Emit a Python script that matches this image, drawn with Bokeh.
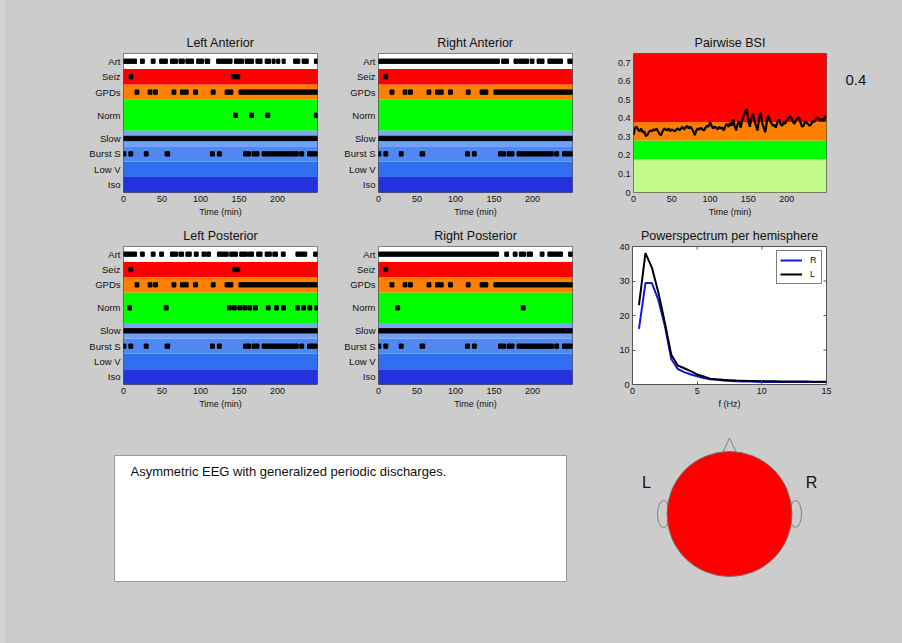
from bokeh.plotting import figure
from bokeh.models import Range1d, FixedTicker, Legend, LegendItem, LinearAxis, Spacer
from bokeh.layouts import column, row
from bokeh.embed import file_html
from bokeh.resources import INLINE
from bokeh.core.properties import value

# ---------------------------------------------------------------- data
T_END = 252  # minutes shown on the time axes

state_names = ["Iso", "Low V", "Burst S", "Slow", "Norm", "GPDs", "Seiz", "Art"]
state_spans = [1, 1, 1, 1, 2, 1, 1, 1]
state_colors = ["#2233dd", "#2f6ff0", "#5088f2", "#6e9ffc", "#00ff00", "#ff8000", "#ff0000", "#ffffff"]
SLOW_UPPER = "#7ca6ef"

# detected episodes per channel group, (start, end) in minutes
gpds_all = [(15, 20), (32, 37), (39, 44), (63, 68), (74, 79), (79, 84), (91, 96), (114, 119),
            (132, 137), (137, 142), (150, 252)]
burst_all = [(0, 3), (7, 12), (27, 32), (54, 60), (113, 118), (122, 127), (156, 165), (167, 176),
             (180, 227), (229, 234), (239, 252)]
slow_all = [(0, 252)]

la_art = [(0, 17), (22, 27), (36, 41), (47, 57), (61, 70), (72, 79), (81, 91), (95, 104), (106, 112),
          (121, 141), (144, 156), (158, 169), (172, 180), (184, 191), (193, 197), (199, 203), (206, 210),
          (221, 229), (232, 240), (248, 252)]
la_seiz = [(7, 12), (141, 151)]
la_norm = [(143, 148), (164, 169), (185, 190), (248, 252)]

ra_art = [(0, 157), (160, 169), (176, 181), (182, 195), (197, 202), (206, 215), (220, 239), (246, 252)]
ra_seiz = [(7, 12)]
ra_norm = []

lp_art = [(0, 17), (22, 27), (36, 41), (47, 52), (61, 70), (72, 78), (81, 88), (92, 97), (102, 107),
          (108, 113), (122, 136), (138, 148), (151, 161), (162, 169), (173, 180), (184, 192), (194, 200),
          (205, 210), (224, 238), (247, 252)]
lp_seiz = [(7, 12), (142, 151)]
lp_norm = [(5.5, 10.5), (53, 58), (135, 140), (141.5, 146.5), (148.5, 153.5), (155, 160), (161.5, 166.5),
           (169, 174), (185.5, 190.5), (196.5, 201.5), (205.5, 210.5), (223.5, 228.5), (231.5, 236.5),
           (239.5, 244.5), (248.5, 253)]

rp_art = [(0, 156), (164, 169), (175, 180), (183, 191), (193, 200), (210, 215), (220, 239), (247, 252)]
rp_seiz = [(7, 12)]
rp_norm = [(22.5, 27.5), (185.5, 190.5)]

# pairwise brain symmetry index, one value every 2 minutes
bsi_step_min = 2
bsi_values = [0.31, 0.35, 0.355, 0.34, 0.33, 0.345, 0.325, 0.33, 0.305, 0.31,
              0.325, 0.335, 0.33, 0.34, 0.335, 0.345, 0.33, 0.315, 0.31, 0.33,
              0.345, 0.34, 0.335, 0.345, 0.33, 0.34, 0.335, 0.33, 0.34, 0.345,
              0.335, 0.345, 0.355, 0.34, 0.35, 0.36, 0.345, 0.355, 0.345, 0.33,
              0.31, 0.335, 0.345, 0.34, 0.35, 0.34, 0.335, 0.35, 0.36, 0.355,
              0.38, 0.36, 0.345, 0.355, 0.35, 0.34, 0.355, 0.345, 0.35, 0.335,
              0.36, 0.37, 0.355, 0.375, 0.36, 0.395, 0.36, 0.335, 0.37, 0.385,
              0.35, 0.39, 0.415, 0.44, 0.45, 0.385, 0.355, 0.40, 0.425, 0.385,
              0.36, 0.335, 0.40, 0.43, 0.375, 0.35, 0.325, 0.38, 0.415, 0.39,
              0.375, 0.36, 0.365, 0.35, 0.38, 0.395, 0.37, 0.36, 0.38, 0.37,
              0.39, 0.395, 0.41, 0.405, 0.385, 0.37, 0.39, 0.40, 0.405, 0.38,
              0.355, 0.36, 0.385, 0.375, 0.37, 0.36, 0.37, 0.385, 0.38, 0.395,
              0.405, 0.40, 0.39, 0.395, 0.385, 0.41, 0.405]
bsi_time = [i * bsi_step_min for i in range(len(bsi_values))]
bsi_summary = 0.4
bsi_band_edges = [0, 0.18, 0.28, 0.38, 0.75]
bsi_band_colors = ["#c3fa8c", "#00ff00", "#ff8000", "#ff0000"]

# power spectrum per hemisphere
freq_hz = [0.5, 1.0, 1.5, 2.0, 2.5, 3.0, 3.5, 4.0, 4.5, 5.0, 5.5, 6.0, 6.5, 7.0, 7.5,
           8.0, 8.5, 9.0, 9.5, 10.0, 10.5, 11.0, 11.5, 12.0, 12.5, 13.0, 13.5, 14.0, 14.5, 15.0]
power_r = [16.1, 29.4, 29.4, 24.5, 17.0, 7.4, 4.5, 3.6, 2.9, 2.4, 1.9, 1.5, 1.35, 1.15, 1.05,
           0.95, 0.9, 0.85, 0.8, 0.75, 0.75, 0.75, 0.7, 0.7, 0.7, 0.7, 0.7, 0.7, 0.7, 0.7]
power_l = [23.0, 38.1, 33.9, 26.7, 18.0, 8.6, 5.5, 4.7, 3.9, 2.9, 2.3, 1.7, 1.5, 1.35, 1.25,
           1.15, 1.1, 1.05, 1.0, 0.95, 0.95, 0.95, 0.9, 0.9, 0.9, 0.85, 0.85, 0.8, 0.8, 0.8]
ps_xticks = [0, 5, 10, 15]
ps_yticks = [0, 10, 20, 30, 40]

conclusion = "Asymmetric EEG with generalized periodic discharges."

# ---------------------------------------------------------------- style
PAGE_BG = "#cccccc"
EDGE_BG = "#d4d4d4"
EDGE_W = 5
FONT = "Liberation Sans"
TEXT_C = "#111111"
FRAME_C = "#555555"
MARK_H = 0.28
TICK_PX = 3
NOTE_Y = 0.606  # height (in BSI units) at which the summary value is printed

ROW_H = [222, 198, 223]
COL_W = [340 - EDGE_W, 250, 312]
ROW_TB = [(53, 30), (24, 36)]
COL_LR = [(123 - EDGE_W, 23), (38, 18), (43, 76)]

band_bottoms, band_tops, state_levels = [], [], []
acc = 0
for span in state_spans:
    band_bottoms.append(acc)
    band_tops.append(acc + span)
    state_levels.append(acc + span / 2)
    acc += span


def base_fig(col, r, x_end, y_end, title, left=None):
    lft, rgt = COL_LR[col]
    top, bot = ROW_TB[r]
    p = figure(width=COL_W[col], height=ROW_H[r], x_range=Range1d(0, x_end), y_range=Range1d(0, y_end),
               output_backend="svg", toolbar_location=None, tools="",
               min_border_left=left if left is not None else lft, min_border_right=rgt,
               min_border_top=top, min_border_bottom=bot,
               background_fill_color="white", border_fill_color=PAGE_BG)
    p.grid.visible = False
    p.outline_line_color = FRAME_C
    p.outline_line_width = 1
    p.title.text = title
    p.title.align = "center"
    p.title.text_font = FONT
    p.title.text_font_size = "12.5px"
    p.title.text_font_style = "normal"
    p.title.text_color = TEXT_C
    p.title.standoff = 8
    return p


def style_axis(ax, ticks, tick_in=0, size="9px"):
    ax.ticker = FixedTicker(ticks=ticks)
    ax.axis_line_color = None
    ax.major_tick_in = tick_in
    ax.major_tick_out = 0
    ax.major_tick_line_color = FRAME_C
    ax.minor_tick_in = 0
    ax.minor_tick_out = 0
    ax.major_label_text_font = FONT
    ax.major_label_text_font_size = size
    ax.major_label_text_color = TEXT_C
    ax.major_label_standoff = 3
    ax.axis_label_text_font = FONT
    ax.axis_label_text_font_size = "9px"
    ax.axis_label_text_font_style = "normal"
    ax.axis_label_text_color = TEXT_C
    ax.axis_label_standoff = 2


def state_panel(title, events, col, r):
    p = base_fig(col, r, T_END, band_tops[-1], title)
    p.quad(left=0, right=T_END, bottom=band_bottoms, top=band_tops, fill_color=state_colors, line_color=None)
    si = state_names.index("Slow")
    p.quad(left=[0], right=[T_END], bottom=[state_levels[si]], top=[band_tops[si]],
           fill_color=SLOW_UPPER, line_color=None)
    ys, ls, rs = [], [], []
    for name, level in zip(state_names, state_levels):
        for s, e in events.get(name, []):
            ys.append(level)
            ls.append(s)
            rs.append(e)
    p.hbar(y=ys, left=ls, right=rs, height=MARK_H, color="black")
    style_axis(p.xaxis[0], [0, 50, 100, 150, 200])
    style_axis(p.yaxis[0], state_levels, size="9.5px")
    p.yaxis[0].major_label_overrides = {lv: nm for lv, nm in zip(state_levels, state_names)}
    p.xaxis[0].axis_label = "Time (min)"
    return p


def edge(height):
    return Spacer(width=EDGE_W, height=height, styles={"background-color": EDGE_BG})


la = state_panel("Left Anterior", {"Art": la_art, "Seiz": la_seiz, "GPDs": gpds_all, "Norm": la_norm,
                                   "Slow": slow_all, "Burst S": burst_all}, 0, 0)
ra = state_panel("Right Anterior", {"Art": ra_art, "Seiz": ra_seiz, "GPDs": gpds_all, "Norm": ra_norm,
                                    "Slow": slow_all, "Burst S": burst_all}, 1, 0)
lp = state_panel("Left Posterior", {"Art": lp_art, "Seiz": lp_seiz, "GPDs": gpds_all, "Norm": lp_norm,
                                    "Slow": slow_all, "Burst S": burst_all}, 0, 1)
rp = state_panel("Right Posterior", {"Art": rp_art, "Seiz": rp_seiz, "GPDs": gpds_all, "Norm": rp_norm,
                                     "Slow": slow_all, "Burst S": burst_all}, 1, 1)

# ---- pairwise BSI
bsi = base_fig(2, 0, T_END, bsi_band_edges[-1], "Pairwise BSI")
bsi.quad(left=0, right=T_END, bottom=bsi_band_edges[:-1], top=bsi_band_edges[1:],
         fill_color=bsi_band_colors, line_color=None)
bsi.line(bsi_time, bsi_values, line_color="black", line_width=2.2)
style_axis(bsi.xaxis[0], [0, 50, 100, 150, 200])
style_axis(bsi.yaxis[0], [0, 0.1, 0.2, 0.3, 0.4, 0.5, 0.6, 0.7])
bsi.yaxis[0].major_label_overrides = {0: "0"}
bsi.xaxis[0].axis_label = "Time (min)"

# summary value printed in the right margin of the BSI panel
note_axis = LinearAxis()
style_axis(note_axis, [NOTE_Y])
note_axis.major_label_overrides = {NOTE_Y: f"{bsi_summary:.1f}"}
note_axis.major_label_text_font_size = "15px"
note_axis.major_label_standoff = 19
bsi.add_layout(note_axis, "right")

# ---- power spectrum
ps = base_fig(2, 1, ps_xticks[-1], ps_yticks[-1], "Powerspectrum per hemisphere", left=42)
r_line = ps.line(freq_hz, power_r, line_color="#1515e0", line_width=2)
l_line = ps.line(freq_hz, power_l, line_color="black", line_width=2)
style_axis(ps.xaxis[0], ps_xticks, tick_in=TICK_PX)
style_axis(ps.yaxis[0], ps_yticks, tick_in=TICK_PX)
ps.xaxis[0].axis_label = "f (Hz)"
# mirrored inward ticks on the right and top edges of the box
fw = COL_W[2] - 42 - COL_LR[2][1]
fh = ROW_H[1] - sum(ROW_TB[1])
dx = ps_xticks[-1] * TICK_PX / fw
dy = ps_yticks[-1] * TICK_PX / fh
ps.segment(x0=[ps_xticks[-1]] * 3, x1=[ps_xticks[-1] - dx] * 3, y0=ps_yticks[1:-1], y1=ps_yticks[1:-1],
           line_color=FRAME_C, line_width=1)
ps.segment(x0=ps_xticks[1:-1], x1=ps_xticks[1:-1], y0=[ps_yticks[-1]] * 2, y1=[ps_yticks[-1] - dy] * 2,
           line_color=FRAME_C, line_width=1)
leg = Legend(items=[LegendItem(label="R", renderers=[r_line]), LegendItem(label="L", renderers=[l_line])],
             location="top_right", margin=4, padding=3, spacing=2, glyph_width=22, glyph_height=12,
             label_height=12, label_width=8, label_standoff=8, label_text_font=FONT,
             label_text_font_size="9px", label_text_color=TEXT_C, border_line_color="black",
             border_line_width=1, background_fill_color="white", background_fill_alpha=1)
ps.add_layout(leg)

# ---- conclusion text and head map
head_color = bsi_band_colors[-1]
for lo, hi, c in zip(bsi_band_edges[:-1], bsi_band_edges[1:], bsi_band_colors):
    if lo <= bsi_summary < hi:
        head_color = c

y0 = sum(ROW_H[:2])
bottom = figure(width=902 - EDGE_W, height=ROW_H[2], x_range=Range1d(EDGE_W, 902),
                y_range=Range1d(y0 + ROW_H[2], y0),
                output_backend="svg", toolbar_location=None, tools="", x_axis_type=None, y_axis_type=None,
                min_border=0, background_fill_color=PAGE_BG, border_fill_color=PAGE_BG)
bottom.grid.visible = False
bottom.outline_line_color = None
bottom.quad(left=[114], right=[566], top=[455], bottom=[581], fill_color="white", line_color="#9a9a9a")
bottom.text(x=[130], y=[471], text=[conclusion], text_font=value(FONT), text_font_size="13px",
            text_baseline="middle", text_align="left", text_color=TEXT_C)

HEAD_X, HEAD_Y, HEAD_R = 729, 513.5, 62.5
bottom.ellipse(x=[HEAD_X - 66, HEAD_X + 66], y=[HEAD_Y, HEAD_Y], width=12, height=27,
               fill_color=None, line_color="#808080")
bottom.line([HEAD_X - 7, HEAD_X, HEAD_X + 7], [HEAD_Y - 61, HEAD_Y - 76, HEAD_Y - 61], line_color="#808080")
bottom.circle(x=[HEAD_X], y=[HEAD_Y], radius=HEAD_R, fill_color=head_color, line_color="#707070")
bottom.text(x=[HEAD_X - 83, HEAD_X + 82], y=[482, 482], text=["L", "R"], text_font=value(FONT),
            text_font_size="16px", text_align="center", text_baseline="middle", text_color=TEXT_C)

bg = {"background-color": PAGE_BG}
page = column(row(edge(ROW_H[0]), la, ra, bsi, styles=bg),
              row(edge(ROW_H[1]), lp, rp, ps, styles=bg),
              row(edge(ROW_H[2]), bottom, styles=bg), styles=bg)
open("out.html", "w").write(file_html(page, INLINE, "EEG overview"))
